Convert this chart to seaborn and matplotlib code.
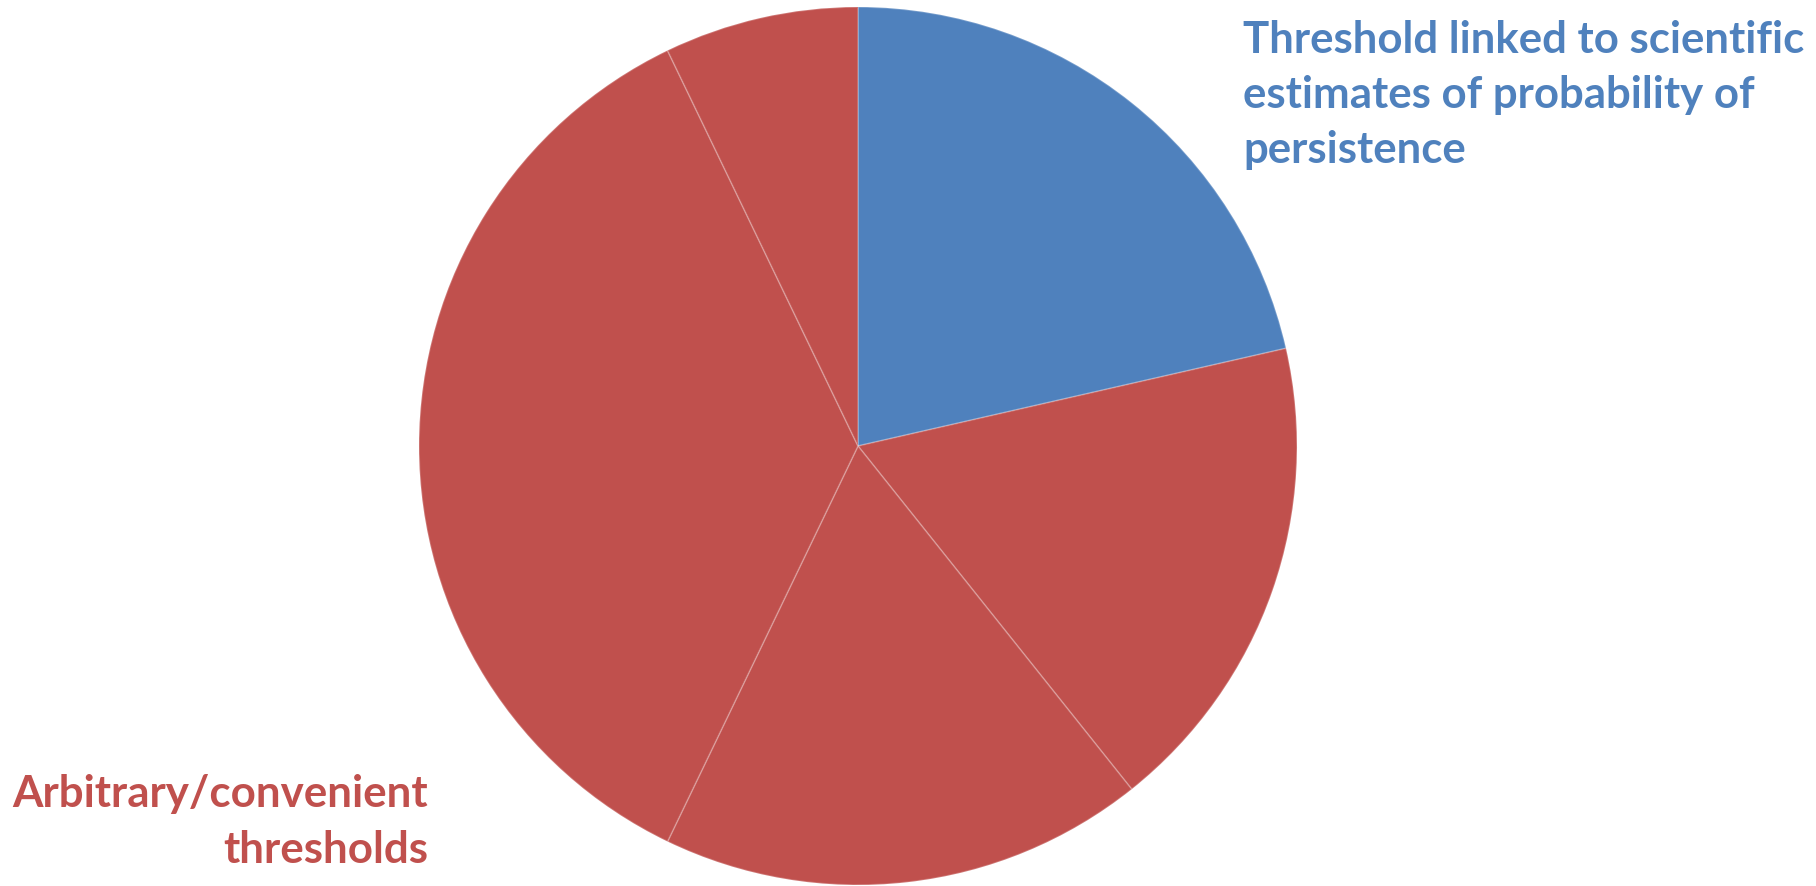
import matplotlib
matplotlib.use("Agg")
import matplotlib.pyplot as plt
import seaborn as sns

categories = ["Threshold linked to scientific estimates of probability of persistence",
              "Arbitrary A", "Arbitrary B", "Arbitrary C", "Arbitrary D"]
values = [3, 2.5, 2.5, 5, 1]
slice_colors = ["#4F81BD", "#C0504D", "#C0504D", "#C0504D", "#C0504D"]

sns.set_style("white")
plt.rcParams['font.family'] = ['Lato', 'DejaVu Sans']

W, H = 1816, 887
fig = plt.figure(figsize=(W / 100, H / 100), dpi=100)
cx, cy, r = 858, 447, 439
ax = fig.add_axes([(cx - r) / W, (H - cy - r) / H, 2 * r / W, 2 * r / H])
ax.pie(values, colors=slice_colors, startangle=90, counterclock=False,
       radius=1, wedgeprops=dict(edgecolor=(1, 1, 1, 0.22), linewidth=1.2))
ax.set_xlim(-1, 1)
ax.set_ylim(-1, 1)
ax.set_aspect("equal")
ax.axis("off")

renderer = fig.canvas.get_renderer()

def fitted_lines(lines, x, baselines, target_width, color, ha, ref_line):
    fs = 30
    t = fig.text(0, 0, lines[ref_line], fontsize=fs, fontweight="bold")
    w = t.get_window_extent(renderer).width
    t.remove()
    fs = fs * target_width / w
    for ln, b in zip(lines, baselines):
        fig.text(x / W, 1 - b / H, ln, fontsize=fs, fontweight="bold",
                 color=color, ha=ha, va="baseline")

fitted_lines(["Threshold linked to scientific", "estimates of probability of", "persistence"],
             1243, [53, 108, 163], 562, "#4F81BD", "left", 0)
fitted_lines(["Arbitrary/convenient", "thresholds"],
             428, [807, 863], 415, "#C0504D", "right", 0)

fig.savefig("out.png", dpi=100)
